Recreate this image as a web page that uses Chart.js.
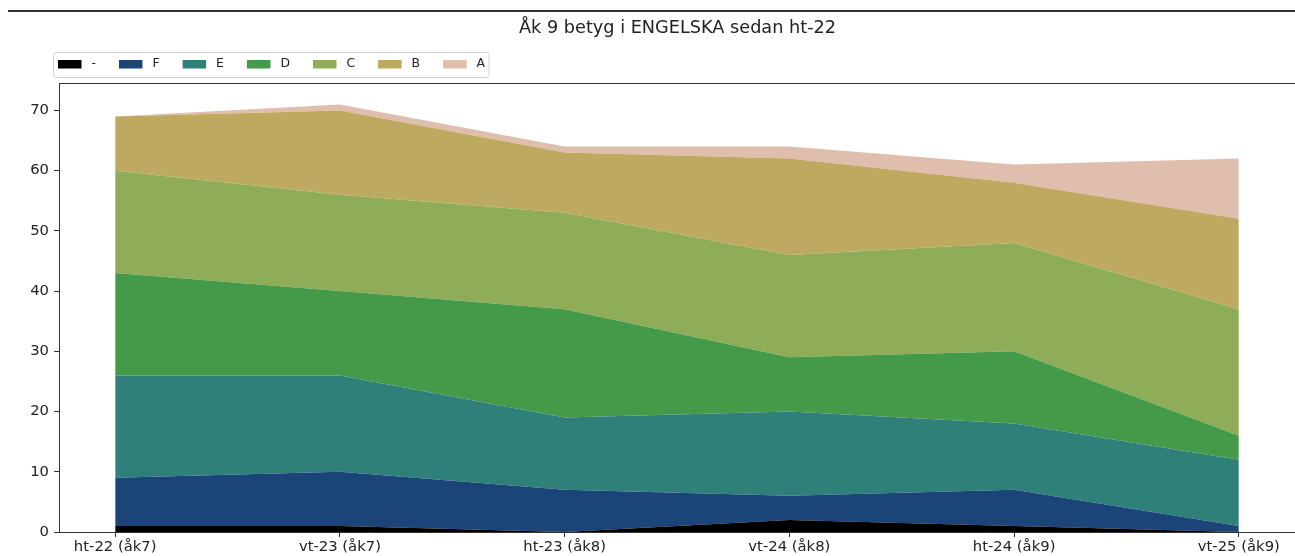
<!DOCTYPE html>
<html>
<head>
<meta charset="utf-8">
<script src="https://cdn.jsdelivr.net/npm/chart.js@4"></script>
<style>
  body { margin: 0; background: #fff; }
  #wrap { width: 1295px; height: 556px; position: relative; }
</style>
</head>
<body>
<div id="wrap"><canvas id="c" width="1295" height="556"></canvas></div>
<script>
// terminer (x-axeln)
const categories = ['ht-22 (åk7)', 'vt-23 (åk7)', 'ht-23 (åk8)', 'vt-24 (åk8)', 'ht-24 (åk9)', 'vt-25 (åk9)'];
const gradeLabels = ['-', 'F', 'E', 'D', 'C', 'B', 'A'];
// antal elever per betyg
const gradeDash = [1, 1, 0, 2, 1, 0];
const gradeF = [8, 9, 7, 4, 6, 1];
const gradeE = [17, 16, 12, 14, 11, 11];
const gradeD = [17, 14, 18, 9, 12, 4];
const gradeC = [17, 16, 16, 17, 18, 21];
const gradeB = [9, 14, 10, 16, 10, 15];
const gradeA = [0, 1, 1, 2, 3, 10];
const yTicks = [0, 10, 20, 30, 40, 50, 60, 70];

const colors = ['#000000', '#1b4578', '#30807a', '#459a4a', '#8fad58', '#bdaa60', '#e0bead'];
const series = [gradeDash, gradeF, gradeE, gradeD, gradeC, gradeB, gradeA];

const datasets = series.map((vals, i) => ({
  label: gradeLabels[i],
  data: vals.map((v, j) => ({ x: j, y: v })),
  backgroundColor: colors[i],
  borderColor: colors[i],
  borderWidth: 0,
  pointRadius: 0,
  tension: 0,
  fill: i === 0 ? 'origin' : '-1'
}));

const FONT = 'DejaVu Sans';

// titel, legend med ram, övre streck och topp-spine
const decor = {
  id: 'decor',
  afterDraw(chart) {
    const ctx = chart.ctx;
    const ca = chart.chartArea;
    ctx.save();
    // streck högst upp
    ctx.fillStyle = '#333';
    ctx.fillRect(8, 10, 1287, 2);
    // topp-spine
    ctx.strokeStyle = '#333';
    ctx.lineWidth = 1;
    ctx.beginPath();
    ctx.moveTo(ca.left, ca.top + 0.5);
    ctx.lineTo(ca.right, ca.top + 0.5);
    ctx.stroke();
    // titel
    ctx.fillStyle = '#222';
    ctx.font = '17.7px "' + FONT + '"';
    ctx.textAlign = 'center';
    ctx.textBaseline = 'middle';
    ctx.fillText('Åk 9 betyg i ENGELSKA sedan ht-22', (ca.left + 1296) / 2, 28);
    // legend
    const fs = 12.4;
    ctx.font = fs + 'px "' + FONT + '"';
    ctx.textAlign = 'left';
    let x = 58;
    const cy = 64;
    const items = [];
    chart.data.datasets.forEach(ds => {
      items.push({ x: x, label: ds.label, color: ds.backgroundColor });
      x += 23.5 + 10 + ctx.measureText(ds.label).width + 23;
    });
    const right = x - 23 + 4;
    ctx.fillStyle = 'rgba(255,255,255,0.8)';
    ctx.strokeStyle = '#d0d0d0';
    ctx.beginPath();
    ctx.roundRect(53.5, 52.5, right - 53.5, 25, 3);
    ctx.fill();
    ctx.stroke();
    items.forEach(it => {
      ctx.fillStyle = it.color;
      ctx.fillRect(it.x, cy - 4, 23.5, 8.5);
      ctx.fillStyle = '#222';
      ctx.fillText(it.label, it.x + 23.5 + 10, cy);
    });
    ctx.restore();
  }
};

new Chart(document.getElementById('c'), {
  type: 'line',
  data: { datasets },
  options: {
    responsive: false,
    animation: false,
    layout: { padding: { top: 83, left: 0, right: 0, bottom: 0 } },
    plugins: { legend: { display: false }, title: { display: false }, tooltip: { enabled: false } },
    scales: {
      x: {
        type: 'linear',
        min: -0.25,
        max: 5.25,
        afterBuildTicks: s => { s.ticks = categories.map((_, i) => ({ value: i })); },
        afterFit: s => { s.height = 24; },
        ticks: {
          callback: v => categories[v] ?? '',
          color: '#222',
          font: { family: FONT, size: 14.8 },
          padding: 1,
          maxRotation: 0,
          autoSkip: false
        },
        grid: { drawOnChartArea: false, drawTicks: true, tickLength: 5, color: '#333' },
        border: { display: true, color: '#333', width: 1 }
      },
      y: {
        stacked: true,
        min: 0,
        max: 74.55,
        afterBuildTicks: s => { s.ticks = yTicks.map(v => ({ value: v })); },
        afterFit: s => { s.width = 59; },
        ticks: {
          color: '#222',
          font: { family: FONT, size: 14.8 },
          padding: 5
        },
        grid: { drawOnChartArea: false, drawTicks: true, tickLength: 5, color: '#333' },
        border: { display: true, color: '#333', width: 1 }
      }
    }
  },
  plugins: [decor]
});
</script>
</body>
</html>
